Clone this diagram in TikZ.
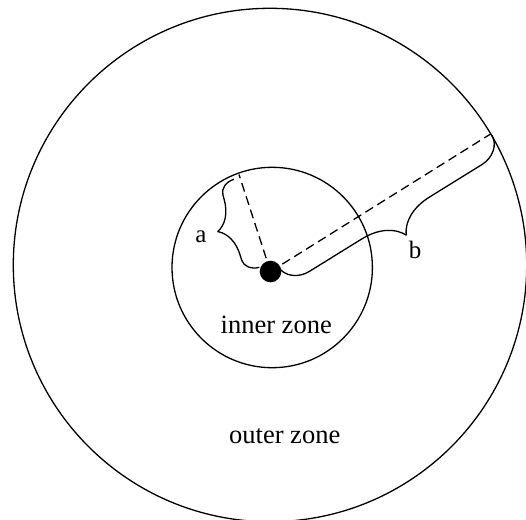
\documentclass[tikz,border=0pt]{standalone}
\usepackage{fontspec}
\setmainfont{Liberation Serif}
\usetikzlibrary{decorations}
\newdimen\hooklen
\hooklen=12pt
\pgfdeclaredecoration{hookbrace}{brace}{
  \state{brace}[width=+\pgfdecoratedremainingdistance,next state=final]{
    \pgfmathsetlengthmacro\bA{\pgfdecorationsegmentamplitude}
    \pgfmathsetlengthmacro\bS{0.5*\pgfdecorationsegmentamplitude}
    \pgfmathsetlengthmacro\bH{\hooklen}
    \pgfmathsetlengthmacro\bL{\pgfdecoratedpathlength}
    \pgfmathsetlengthmacro\bM{0.5*\pgfdecoratedpathlength}
    \pgfpathmoveto{\pgfpointorigin}
    \pgfpathcurveto{\pgfpoint{0pt}{0.552*\bS}}{\pgfpoint{0.448*\bH}{\bS}}{\pgfpoint{\bH}{\bS}}
    \pgfpathlineto{\pgfpoint{\bM-\bA}{\bS}}
    \pgfpathcurveto{\pgfpoint{\bM-0.5*\bA}{\bS}}{\pgfpoint{\bM-0.15*\bA}{0.7*\bA}}{\pgfpoint{\bM}{\bA}}
    \pgfpathcurveto{\pgfpoint{\bM+0.15*\bA}{0.7*\bA}}{\pgfpoint{\bM+0.5*\bA}{\bS}}{\pgfpoint{\bM+\bA}{\bS}}
    \pgfpathlineto{\pgfpoint{\bL-\bH}{\bS}}
    \pgfpathcurveto{\pgfpoint{\bL-0.448*\bH}{\bS}}{\pgfpoint{\bL}{0.552*\bS}}{\pgfpoint{\bL}{0pt}}
  }
  \state{final}{}
}
\begin{document}
\begin{tikzpicture}[x=1pt,y=-1pt,
  ring/.style={circle,draw,line width=1.3pt,inner sep=0pt,outer sep=0pt},
  radius line/.style={line width=1.3pt,dash pattern=on 9pt off 5pt},
  hook len/.code={\pgfmathsetlength{\hooklen}{#1}},
  bracestyle/.style={line width=1.3pt,line join=round,decorate,decoration={hookbrace,amplitude=#1}},
  zonetext/.style={anchor=base,font=\fontsize{26.5}{30}\selectfont,inner sep=0pt},
  lettertext/.style={anchor=base,font=\fontsize{25}{30}\selectfont,inner sep=0pt}]
\useasboundingbox (0,0) rectangle (526,519);
\node[ring,minimum size=513.4pt] (outer) at (270,265) {};
\node[ring,minimum size=200.4pt] (inner) at (272.2,267.5) {};
\node[circle,fill=black,inner sep=0pt,minimum size=21.6pt] (dot) at (270.5,271.5) {};
\coordinate (pa) at (239,174.5);
\coordinate (pb) at (490.6,134);
\draw[radius line] (dot.center) -- (pa);
\draw[radius line] (dot.center) -- (pb);
\coordinate (a1) at (259.3,267.3);
\coordinate (a2) at (234,179.3);
\coordinate (b1) at (491.7,135);
\coordinate (b2) at (278.5,267);
\draw[hook len=12pt,bracestyle=30pt] (a1) -- (a2);
\draw[hook len=24pt,bracestyle=40pt] (b1) -- (b2);
\node[lettertext] (la) at (201,242.5) {a};
\node[lettertext] (lb) at (415.2,258.8) {b};
\node[zonetext] (iz) at (276.2,333.3) {inner zone};
\node[zonetext] (oz) at (284.7,443.3) {outer zone};
\end{tikzpicture}
\end{document}
